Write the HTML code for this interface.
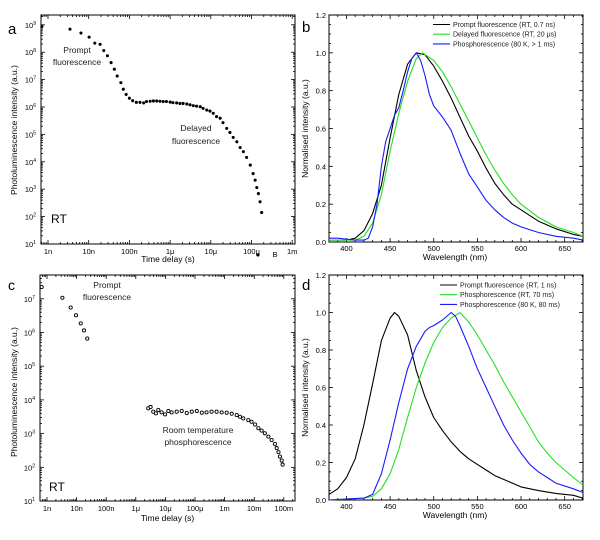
<!DOCTYPE html>
<html><head><meta charset="utf-8"><style>
body{margin:0;background:#fff;width:600px;height:540px;overflow:hidden}
svg{display:block;font-family:"Liberation Sans",Arial,sans-serif}
</style></head><body>
<svg id="fig" width="600" height="540" viewBox="0 0 600 540">
<g font-size="15" fill="#000">
<text x="8" y="34">a</text>
<text x="302" y="32">b</text>
<text x="8" y="290" font-size="14">c</text>
<text x="302" y="290">d</text>
</g>
<g font-size="8.5" fill="#222" text-anchor="middle">
<text x="77" y="53">Prompt</text>
<text x="77" y="65">fluorescence</text>
<text x="196" y="131">Delayed</text>
<text x="196" y="144">fluorescence</text>
<text x="107" y="288">Prompt</text>
<text x="107" y="300">fluorescence</text>
<text x="198" y="433">Room temperature</text>
<text x="198" y="445">phosphorescence</text>
</g>
<text x="51" y="223" font-size="12">RT</text>
<text x="49" y="491" font-size="12">RT</text>
</svg>
<script>
// ---- Panel a data (log10 time in s, log10 intensity) ----
const aLogTime = [-9.15,-8.46,-8.19,-7.99,-7.85,-7.72,-7.63,-7.54,-7.45,-7.37,-7.30,-7.21,-7.15,-7.08,-7.00,-6.92,-6.83,
-6.74,-6.65,-6.58,-6.49,-6.41,-6.33,-6.25,-6.17,-6.09,-6.00,-5.93,-5.84,-5.76,-5.68,-5.59,-5.51,-5.43,-5.35,-5.26,-5.19,-5.10,-5.02,-4.94,
-4.86,-4.77,-4.70,-4.61,-4.53,-4.45,-4.36,-4.28,-4.20,-4.12,-4.03,-3.96,-3.91,-3.87,-3.83,-3.79,-3.75,-3.84];
const aLogIntensity = [8.94,8.84,8.70,8.55,8.33,8.29,8.06,7.87,7.62,7.38,7.13,6.89,6.65,6.46,6.32,6.23,6.17,
6.17,6.15,6.20,6.21,6.22,6.22,6.21,6.20,6.20,6.18,6.16,6.15,6.13,6.13,6.11,6.08,6.05,6.03,6.01,5.95,5.89,5.85,5.77,
5.65,5.59,5.43,5.22,5.07,4.89,4.73,4.52,4.37,4.16,3.88,3.57,3.33,3.06,2.84,2.54,2.15,0.6];
const aTickLabels = ["1n","10n","100n","1\u03bc","10\u03bc","100\u03bc","1m"];
// ---- Panel c data ----
const cLogTime = [-9.18,-8.48,-8.20,-8.02,-7.86,-7.75,-7.64,
-5.58,-5.50,-5.41,-5.32,-5.24,-5.13,-5.01,-4.90,-4.79,-4.62,-4.45,-4.28,-4.11,-3.94,-3.77,-3.61,-3.44,-3.27,-3.10,-2.93,-2.76,-2.59,-2.48,-2.37,-2.20,-2.09,-1.97,-1.86,-1.75,-1.64,-1.52,-1.41,-1.30,-1.24,-1.18,-1.13,-1.07,-1.04];
const cLogIntensity = [7.35,7.03,6.74,6.51,6.27,6.06,5.82,
3.75,3.79,3.65,3.60,3.70,3.63,3.57,3.67,3.63,3.65,3.67,3.61,3.65,3.67,3.62,3.63,3.65,3.65,3.63,3.62,3.59,3.55,3.50,3.45,3.40,3.35,3.27,3.16,3.09,3.01,2.91,2.81,2.69,2.57,2.45,2.32,2.20,2.08];
const cTickLabels = ["1n","10n","100n","1\u03bc","10\u03bc","100\u03bc","1m","10m","100m"];
// ---- Panel b spectra ----
const bPromptNm = [380,400,410,420,430,440,450,460,470,480,490,500,510,520,530,540,550,560,570,580,590,600,620,640,660,671];
const bPromptVal = [0.01,0.01,0.02,0.06,0.15,0.30,0.55,0.78,0.94,1.0,0.99,0.93,0.85,0.76,0.66,0.56,0.48,0.39,0.31,0.25,0.20,0.17,0.11,0.07,0.04,0.03];
const bDelayedNm = [380,410,420,430,440,450,460,470,480,487,500,510,520,530,540,550,560,570,580,590,600,620,640,660,671];
const bDelayedVal = [0.01,0.01,0.03,0.10,0.25,0.48,0.68,0.85,0.97,1.0,0.96,0.90,0.82,0.73,0.64,0.55,0.46,0.38,0.31,0.25,0.20,0.13,0.08,0.05,0.03];
const bPhosNm = [380,390,400,410,420,425,430,435,440,445,450,455,460,465,470,475,480,485,490,495,500,510,520,530,540,550,560,570,580,590,600,620,640,660,671];
const bPhosVal = [0.02,0.02,0.015,0.01,0.01,0.02,0.08,0.20,0.40,0.53,0.60,0.67,0.71,0.80,0.90,0.97,1.0,0.96,0.88,0.78,0.72,0.66,0.59,0.47,0.36,0.29,0.22,0.17,0.13,0.10,0.08,0.05,0.03,0.02,0.01];
// ---- Panel d spectra ----
const dPromptNm = [380,390,400,410,420,430,440,450,455,460,470,480,490,500,510,520,530,540,550,560,570,580,590,600,620,640,660,671];
const dPromptVal = [0.03,0.06,0.12,0.22,0.40,0.62,0.85,0.97,1.0,0.98,0.88,0.69,0.55,0.44,0.37,0.31,0.26,0.22,0.19,0.16,0.13,0.11,0.09,0.07,0.05,0.035,0.025,0.01];
const dRtNm = [380,420,430,440,450,460,470,480,490,500,510,520,530,540,550,560,570,580,590,600,610,620,630,640,650,660,671];
const dRtVal = [0.0,0.01,0.02,0.06,0.14,0.27,0.44,0.60,0.73,0.84,0.92,0.97,1.0,0.95,0.88,0.80,0.72,0.63,0.55,0.47,0.39,0.31,0.25,0.20,0.16,0.12,0.08];
const d80Nm = [380,420,430,440,450,460,470,480,490,495,500,510,520,525,530,540,550,560,570,580,590,600,610,620,630,640,660,671];
const d80Val = [0.0,0.01,0.03,0.14,0.32,0.52,0.70,0.82,0.90,0.92,0.93,0.96,1.0,0.98,0.93,0.82,0.70,0.60,0.50,0.40,0.32,0.25,0.19,0.15,0.12,0.09,0.06,0.04];

const NS="http://www.w3.org/2000/svg";
const svg=document.getElementById('fig');
function mk(tag,attrs,parent){const e=document.createElementNS(NS,tag);for(const k in attrs)e.setAttribute(k,attrs[k]);(parent||svg).appendChild(e);return e;}

function frame(g,L,T,R,B){
  const r=mk('rect',{x:L,y:T,width:R-L,height:B-T,fill:'none',stroke:'#000','stroke-width':1},g);
  
  
}
function tick(g,x1,y1,x2,y2){mk('line',{x1:x1,y1:y1,x2:x2,y2:y2,stroke:'#000','stroke-width':0.8},g);}

function logPanel(name,L,T,R,B,xA,xB,yA,yB,xLabels,xLabelStart,yMin,yMax,logT,logI,hollow,ylabelY,xTitleY){
  const g=mk('g',{});
  
  
  const X=v=>xA+xB*v, Y=v=>yA+yB*v;
  frame(g,L,T,R,B);
  for(let d=-10;d<=0;d++){for(let m=1;m<10;m++){const v=d+Math.log10(m);const x=X(v);if(x<L+0.5||x>R-0.5)continue;const len=m==1?4:2;tick(g,x,B,x,B-len);tick(g,x,T,x,T+len);}}
  const xl=mk('g',{'font-size':7.5,'text-anchor':'middle'},g);
  
  
  xLabels.forEach((s,i)=>{const t=mk('text',{x:X(xLabelStart+i),y:B+10},xl);t.textContent=s;});
  for(let d=yMin;d<=yMax+1;d++){for(let m=1;m<10;m++){const v=d+Math.log10(m);const y=Y(v);if(y<T+0.5||y>B+0.5)continue;const len=m==1?4:2;tick(g,L,y,L+len,y);tick(g,R,y,R-len,y);}}
  const yl=mk('g',{'font-size':7.5,'text-anchor':'end'},g);
  
  
  for(let d=yMin;d<=yMax;d++){const t=mk('text',{x:L-5,y:Y(d)+3},yl);t.textContent='10';const s=mk('tspan',{'font-size':5,dy:-3},t);s.textContent=String(d);}
  const xt=mk('text',{x:(L+R)/2,y:xTitleY,'font-size':8.5,'text-anchor':'middle'},g);
  
  
  xt.textContent='Time delay (s)';
  const yt=mk('text',{x:0,y:0,'font-size':8.5,'text-anchor':'middle',transform:`translate(17,${ylabelY}) rotate(-90)`},g);
  
  
  yt.textContent='Photoluminescence intensity (a.u.)';
  const pts=mk('g',{},g);
  
  
  for(let i=0;i<logT.length;i++){
    const c=mk('circle',hollow?{cx:X(logT[i]),cy:Y(logI[i]),r:1.6,fill:'#fff',stroke:'#000','stroke-width':0.9}:{cx:X(logT[i]),cy:Y(logI[i]),r:1.55,fill:'#000'},pts);
    
    
  }
  return g;
}

logPanel('panel-a-decay',41,15,295,244,48+40.7*9,40.7,244+27.4,-27.4,aTickLabels,-9,1,9,aLogTime,aLogIntensity,false,130,262);
const bl=mk('text',{x:275,y:257,'font-size':7.5,'text-anchor':'middle'});


bl.textContent='B';
logPanel('panel-c-decay',40,275,295,501,47+29.6*9,29.6,501+33.7,-33.7,cTickLabels,-9,1,7,cLogTime,cLogIntensity,true,392,521);

function specPanel(name,L,T,R,B,series,legendY,legendX){
  const g=mk('g',{});
  
  
  const x0=380,x1=671;
  const X=v=>L+(v-x0)/(x1-x0)*(R-L), Y=v=>B-(v/1.2)*(B-T);
  frame(g,L,T,R,B);
  for(let v=380;v<=x1;v+=10){const x=X(v);const len=v%50==0?4:2;tick(g,x,B,x,B-len);tick(g,x,T,x,T+len);}
  for(let k=0;k<=24;k++){const v=k*0.05;const y=Y(v);const len=k%4==0?4:2;tick(g,L,y,L+len,y);tick(g,R,y,R-len,y);}
  const xl=mk('g',{'font-size':7.5,'text-anchor':'middle'},g);
  
  
  [400,450,500,550,600,650].forEach(v=>{const t=mk('text',{x:X(v),y:B+9},xl);t.textContent=v;});
  const yl=mk('g',{'font-size':7.5,'text-anchor':'end'},g);
  
  
  [0,0.2,0.4,0.6,0.8,1.0,1.2].forEach(v=>{const t=mk('text',{x:L-3,y:Y(v)+3},yl);t.textContent=v.toFixed(1);});
  const xt=mk('text',{x:455,y:B+18,'font-size':8.5,'text-anchor':'middle'},g);
  
  
  xt.textContent='Wavelength (nm)';
  const yt=mk('text',{x:0,y:0,'font-size':8.5,'text-anchor':'middle',transform:`translate(308,${(T+B)/2}) rotate(-90)`},g);
  
  
  yt.textContent='Normalised intensity (a.u.)';
  series.forEach((s,i)=>{
    const d=s.nm.map((v,j)=>(j?'L':'M')+X(v).toFixed(1)+','+Y(s.val[j]).toFixed(1)).join('');
    const p=mk('path',{d:d,fill:'none',stroke:s.color,'stroke-width':1.1,'stroke-linejoin':'round'},g);
    
    
    const ly=legendY+i*9.7;
    const lg=mk('g',{},g);
    
    
    mk('line',{x1:legendX,y1:ly,x2:legendX+17,y2:ly,stroke:s.color,'stroke-width':1.1},lg);
    const t=mk('text',{x:legendX+20,y:ly+2.5,'font-size':7,fill:'#222'},lg);t.textContent=s.label;
  });
}
specPanel('panel-b-spectra',329,15,583,242,[
 {id:'prompt-fluorescence-line',nm:bPromptNm,val:bPromptVal,color:'#000',label:'Prompt fluorescence (RT, 0.7 ns)'},
 {id:'delayed-fluorescence-line',nm:bDelayedNm,val:bDelayedVal,color:'#22e022',label:'Delayed fluorescence (RT, 20 \u03bcs)'},
 {id:'phosphorescence-80k-line',nm:bPhosNm,val:bPhosVal,color:'#1a1aff',label:'Phosphorescence (80 K, > 1 ms)'}],24.5,433);
specPanel('panel-d-spectra',329,275,583,500,[
 {id:'prompt-fluorescence-line',nm:dPromptNm,val:dPromptVal,color:'#000',label:'Prompt fluorescence (RT, 1 ns)'},
 {id:'phosphorescence-rt-line',nm:dRtNm,val:dRtVal,color:'#22e022',label:'Phosphorescence (RT, 70 ms)'},
 {id:'phosphorescence-80k-line',nm:d80Nm,val:d80Val,color:'#1a1aff',label:'Phosphorescence (80 K, 80 ms)'}],285,440);
</script>
</body></html>
